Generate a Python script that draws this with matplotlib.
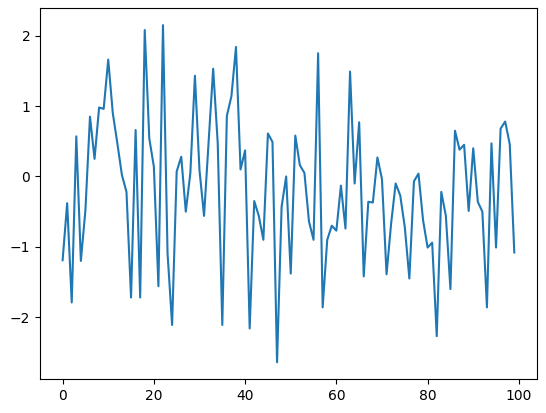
import matplotlib
matplotlib.use("Agg")
import matplotlib.pyplot as plt

# values, index 0..99
vals = [
    -1.19, -0.38, -1.79, 0.57, -1.20, -0.48, 0.85, 0.25, 0.98, 0.96,
    1.66, 0.90, 0.47, 0.02, -0.22, -1.72, 0.66, -1.72, 2.08, 0.54,
    0.14, -1.56, 2.15, -1.09, -2.11, 0.07, 0.28, -0.50, 0.05, 1.43,
    0.09, -0.56, 0.49, 1.53, 0.47, -2.11, 0.86, 1.14, 1.84, 0.10,
    0.37, -2.16, -0.35, -0.56, -0.90, 0.61, 0.49, -2.64, -0.43, 0.00,
    -1.38, 0.58, 0.16, 0.05, -0.64, -0.90, 1.75, -1.86, -0.90, -0.70,
    -0.77, -0.13, -0.74, 1.49, -0.10, 0.77, -1.42, -0.36, -0.37, 0.27,
    -0.04, -1.39, -0.67, -0.10, -0.27, -0.72, -1.45, -0.07, 0.04, -0.62,
    -1.01, -0.94, -2.27, -0.22, -0.56, -1.60, 0.65, 0.38, 0.45, -0.49,
    0.40, -0.36, -0.50, -1.86, 0.47, -1.01, 0.68, 0.78, 0.46, -1.08,
]

fig = plt.figure(figsize=(5.46, 4.13), dpi=100)
ax = fig.add_axes([0.0733, 0.082, 0.91, 0.898])
ax.plot(range(len(vals)), vals)

fig.savefig("out.png", dpi=100)
